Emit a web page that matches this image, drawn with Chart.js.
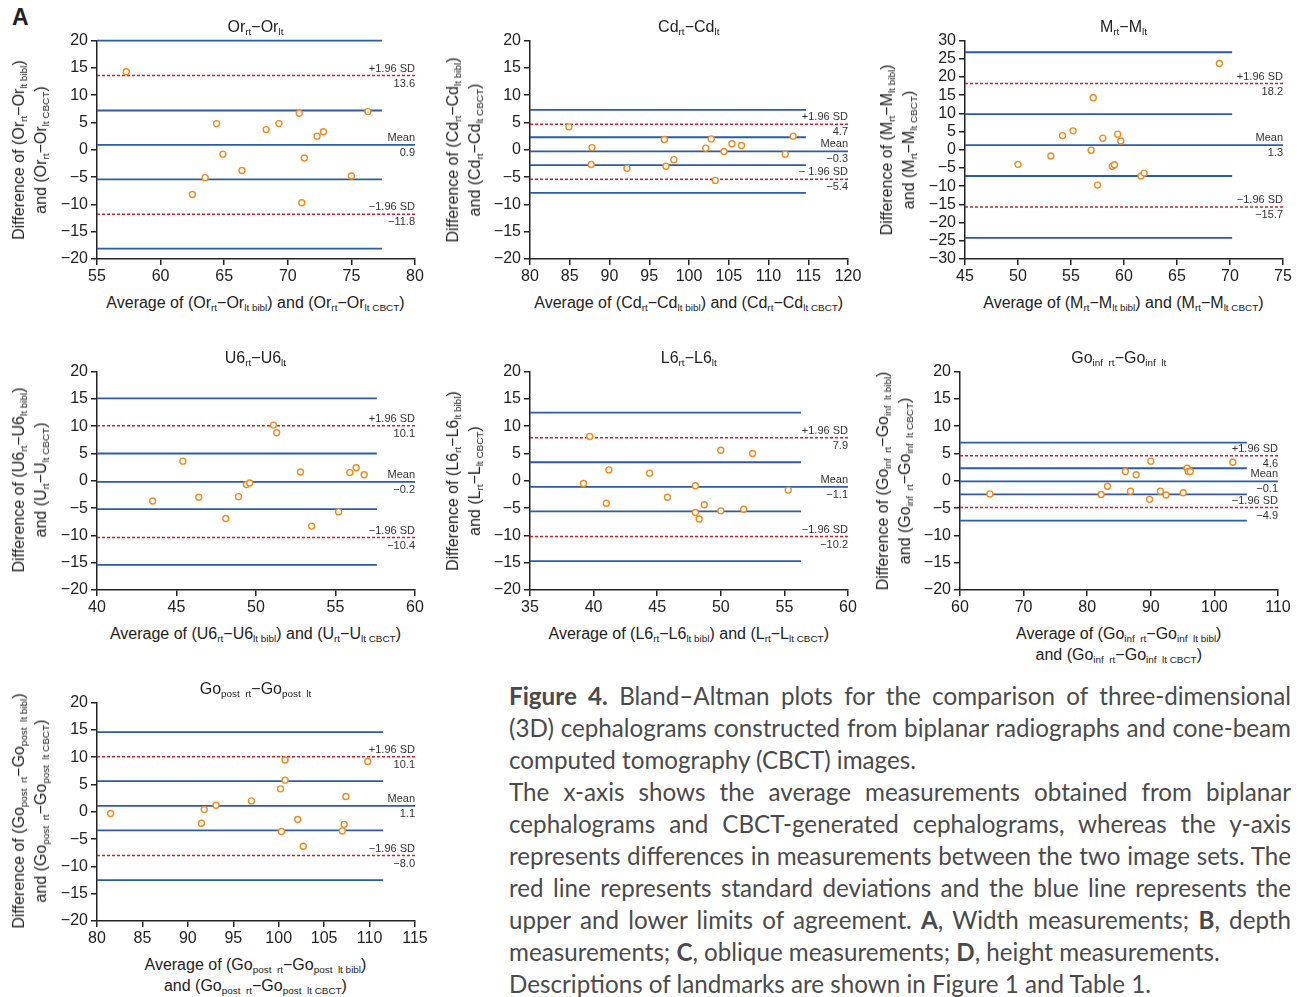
<!DOCTYPE html>
<html>
<head>
<meta charset="utf-8">
<script src="https://cdn.jsdelivr.net/npm/chart.js@4/dist/chart.umd.min.js"></script>
<style>
  body{margin:0;background:#fff;width:1300px;height:997px;position:relative;overflow:hidden;font-family:"Liberation Sans",Arial,sans-serif;color:#222}
  canvas{position:absolute}
  .t{position:absolute;transform:translate(-50%,-50%);white-space:nowrap;font-size:16px;line-height:21px;text-align:center}
  .yl{transform:translate(-50%,-50%) rotate(-90deg);line-height:22px}
  sub{font-size:62%;vertical-align:-0.35em;line-height:0}
  #panelA{position:absolute;left:12px;top:4px;font-size:23px;font-weight:bold}
  #caption{position:absolute;left:509px;top:680px;width:782px;font-family:Lato,"Noto Sans",sans-serif;color:#4a4a4a;font-size:24px}
  #caption div{height:32px;line-height:32px;white-space:nowrap}
  #caption .j{text-align:justify;text-align-last:justify;white-space:normal}
</style>
</head>
<body>
<div id="panelA">A</div>
<div id="caption">
  <div class="j"><b>Figure 4.</b> Bland–Altman plots for the comparison of three-dimensional</div>
  <div class="j">(3D) cephalograms constructed from biplanar radiographs and cone-beam</div>
  <div>computed tomography (CBCT) images.</div>
  <div class="j">The x-axis shows the average measurements obtained from biplanar</div>
  <div class="j">cephalograms and CBCT-generated cephalograms, whereas the y-axis</div>
  <div class="j">represents differences in measurements between the two image sets. The</div>
  <div class="j">red line represents standard deviations and the blue line represents the</div>
  <div class="j">upper and lower limits of agreement. <b>A</b>, Width measurements; <b>B</b>, depth</div>
  <div>measurements; <b>C</b>, oblique measurements; <b>D</b>, height measurements.</div>
  <div id="lastLine"><span>Descriptions of landmarks are shown in Figure 1 and Table 1.</span></div>
</div>
<script>
// values (15 subjects per plot)
const orAvg  = [57.3, 62.5, 63.5, 64.4, 64.9, 66.4, 68.3, 69.3, 70.9, 71.1, 71.3, 72.3, 72.8, 75.0, 76.3];
const orDiff = [14.3, -8.2, -5.1, 4.8, -0.8, -3.8, 3.7, 4.8, 6.7, -9.7, -1.5, 2.5, 3.3, -4.8, 7.0];
const orBlue = [20, 7.2, -5.4, -18.1];
const orMean = 0.9, orSD = [13.6, -11.8];

const cdAvg  = [84.9, 87.8, 87.7, 92.2, 96.9, 97.1, 98.1, 102.1, 102.8, 103.3, 104.4, 105.4, 106.6, 112.1, 113.1];
const cdDiff = [4.2, 0.4, -2.7, -3.4, 1.9, -3.0, -1.8, 0.3, 2.0, -5.6, -0.3, 1.1, 0.8, -0.8, 2.5];
const cdBlue = [7.3, 2.3, -2.8, -7.9];
const cdMean = -0.3, cdSD = [4.7, -5.4];

const mAvg  = [50.0, 53.1, 54.2, 55.2, 56.9, 57.1, 57.5, 58.0, 58.9, 59.1, 59.4, 59.7, 61.6, 61.9, 69.0];
const mDiff = [-4.0, -1.7, 3.9, 5.2, -0.1, 14.3, -9.7, 3.2, -4.5, -4.1, 4.3, 2.4, -7.2, -6.4, 23.7];
const mBlue = [26.8, 9.8, -7.2, -24.2];
const mMean = 1.3, mSD = [18.2, -15.7];

const u6Avg  = [43.5, 45.4, 46.4, 48.1, 48.9, 49.4, 49.6, 51.1, 51.3, 52.8, 53.5, 55.2, 55.9, 56.3, 56.8];
const u6Diff = [-3.7, 3.6, -3.0, -6.9, -2.9, -0.7, -0.4, 10.2, 8.8, 1.6, -8.3, -5.7, 1.5, 2.4, 1.1];
const u6Blue = [15.1, 5.0, -5.2, -15.4];
const u6Mean = -0.2, u6SD = [10.1, -10.4];

const l6Avg  = [39.2, 39.7, 41.0, 41.2, 44.4, 45.8, 48.0, 48.0, 48.3, 48.7, 50.0, 50.0, 51.8, 52.5, 55.3];
const l6Diff = [-0.5, 8.1, -4.1, 2.0, 1.4, -3.0, -0.9, -5.8, -7.0, -4.4, -5.5, 5.6, -5.2, 5.0, -1.7];
const l6Blue = [12.5, 3.4, -5.6, -14.7];
const l6Mean = -1.1, l6SD = [7.9, -10.2];

const giAvg  = [64.7, 82.2, 83.2, 86.0, 86.8, 87.7, 89.8, 90.0, 91.5, 92.4, 95.1, 95.7, 95.9, 96.2, 102.9];
const giDiff = [-2.4, -2.5, -1.0, 1.7, -1.9, 1.1, -3.4, 3.6, -1.9, -2.6, -2.2, 2.3, 1.7, 1.7, 3.4];
const giBlue = [7.0, 2.3, -2.5, -7.3];
const giMean = -0.1, giSD = [4.6, -4.9];

const gpAvg  = [81.5, 91.5, 91.8, 93.1, 97.0, 100.2, 100.3, 100.7, 100.7, 102.1, 102.7, 107.0, 107.2, 107.4, 109.8];
const gpDiff = [-0.3, -2.1, 0.4, 1.2, 2.0, 4.2, -3.6, 5.8, 9.5, -1.4, -6.3, -3.5, -2.3, 2.8, 9.2];
const gpBlue = [14.6, 5.6, -3.4, -12.5];
const gpMean = 1.1, gpSD = [10.1, -8.0];

// axis ranges and where the blue limit lines stop
const xRanges = [[55,80],[80,120],[45,75],[40,60],[35,60],[60,110],[80,115]];
const yRanges = [[-20,20],[-20,20],[-30,30],[-20,20],[-20,20],[-20,20],[-20,20]];
const blueEnds = [77.4, 114.7, 70.2, 57.6, 56.3, 105.1, 111.5];

const BLUE='#2b5ca8', RED='#cf1f2e', ORANGE='#f28a1f';
const minus = s => String(s).replace('-', '\u2212');

const panels = [
  {avg:orAvg, diff:orDiff, blue:orBlue, mean:orMean, sd:orSD, L:96.7, T:40, step:5,
   title:'Or<sub>rt</sub>−Or<sub>lt</sub>',
   xt:'Average of (Or<sub>rt</sub>−Or<sub>lt bibl</sub>) and (Or<sub>rt</sub>−Or<sub>lt CBCT</sub>)',
   yt:'Difference of (Or<sub>rt</sub>−Or<sub>lt bibl</sub>)<br>and (Or<sub>rt</sub>−Or<sub>lt CBCT</sub>)', yx:30},
  {avg:cdAvg, diff:cdDiff, blue:cdBlue, mean:cdMean, sd:cdSD, L:530, T:40, step:5, lowLabel:'\u2212 1.96 SD',
   title:'Cd<sub>rt</sub>−Cd<sub>lt</sub>',
   xt:'Average of (Cd<sub>rt</sub>−Cd<sub>lt bibl</sub>) and (Cd<sub>rt</sub>−Cd<sub>lt CBCT</sub>)',
   yt:'Difference of (Cd<sub>rt</sub>−Cd<sub>lt bibl</sub>)<br>and (Cd<sub>rt</sub>−Cd<sub>lt CBCT</sub>)', yx:464},
  {avg:mAvg, diff:mDiff, blue:mBlue, mean:mMean, sd:mSD, L:964.7, T:40, step:5,
   title:'M<sub>rt</sub>−M<sub>lt</sub>',
   xt:'Average of (M<sub>rt</sub>−M<sub>lt bibl</sub>) and (M<sub>rt</sub>−M<sub>lt CBCT</sub>)',
   yt:'Difference of (M<sub>rt</sub>−M<sub>lt bibl</sub>)<br>and (M<sub>rt</sub>−M<sub>lt CBCT</sub>)', yx:898},
  {avg:u6Avg, diff:u6Diff, blue:u6Blue, mean:u6Mean, sd:u6SD, L:96.7, T:370.7, step:5,
   title:'U6<sub>rt</sub>−U6<sub>lt</sub>',
   xt:'Average of (U6<sub>rt</sub>−U6<sub>lt bibl</sub>) and (U<sub>rt</sub>−U<sub>lt CBCT</sub>)',
   yt:'Difference of (U6<sub>rt</sub>−U6<sub>lt bibl</sub>)<br>and (U<sub>rt</sub>−U<sub>lt CBCT</sub>)', yx:30},
  {avg:l6Avg, diff:l6Diff, blue:l6Blue, mean:l6Mean, sd:l6SD, L:530, T:371, step:5,
   title:'L6<sub>rt</sub>−L6<sub>lt</sub>',
   xt:'Average of (L6<sub>rt</sub>−L6<sub>lt bibl</sub>) and (L<sub>rt</sub>−L<sub>lt CBCT</sub>)',
   yt:'Difference of (L6<sub>rt</sub>−L6<sub>lt bibl</sub>)<br>and (L<sub>rt</sub>−L<sub>lt CBCT</sub>)', yx:464},
  {avg:giAvg, diff:giDiff, blue:giBlue, mean:giMean, sd:giSD, L:960, T:371, step:10,
   title:'Go<sub>inf&nbsp;&nbsp;rt</sub>−Go<sub>inf&nbsp;&nbsp;lt</sub>',
   xt:'Average of (Go<sub>inf&nbsp;&nbsp;rt</sub>−Go<sub>inf&nbsp;&nbsp;lt bibl</sub>)<br>and (Go<sub>inf&nbsp;&nbsp;rt</sub>−Go<sub>inf&nbsp;&nbsp;lt CBCT</sub>)',
   yt:'Difference of (Go<sub>inf&nbsp;&nbsp;rt</sub>−Go<sub>inf&nbsp;&nbsp;lt bibl</sub>)<br>and (Go<sub>inf&nbsp;&nbsp;rt</sub>−Go<sub>inf&nbsp;&nbsp;lt CBCT</sub>)', yx:894},
  {avg:gpAvg, diff:gpDiff, blue:gpBlue, mean:gpMean, sd:gpSD, L:96.7, T:701.7, step:5,
   title:'Go<sub>post&nbsp;&nbsp;rt</sub>−Go<sub>post&nbsp;&nbsp;lt</sub>',
   xt:'Average of (Go<sub>post&nbsp;&nbsp;rt</sub>−Go<sub>post&nbsp;&nbsp;lt bibl</sub>)<br>and (Go<sub>post&nbsp;&nbsp;rt</sub>−Go<sub>post&nbsp;&nbsp;lt CBCT</sub>)',
   yt:'Difference of (Go<sub>post&nbsp;&nbsp;rt</sub>−Go<sub>post&nbsp;&nbsp;lt bibl</sub>)<br>and (Go<sub>post&nbsp;&nbsp;rt</sub>−Go<sub>post&nbsp;&nbsp;lt CBCT</sub>)', yx:30}
];

const W = 317.5, H = 219, YW = 60, XH = 30, PT = 12, PR = 18;

function addText(html, cx, cy, cls){
  const d = document.createElement('div');
  d.className = 't' + (cls ? ' ' + cls : '');
  d.innerHTML = html;
  d.style.left = cx + 'px'; d.style.top = cy + 'px';
  document.body.appendChild(d);
}

// right-aligned labels at the end of the mean / SD lines
const lineLabels = {
  id:'lineLabels',
  afterDatasetsDraw(chart, args, opts){
    const {ctx, chartArea, scales:{y}} = chart;
    ctx.save();
    ctx.font = '11px "Liberation Sans", Arial, sans-serif';
    ctx.fillStyle = '#333'; ctx.textAlign = 'right'; ctx.textBaseline = 'middle';
    opts.items.forEach(it=>{
      const py = y.getPixelForValue(it.v);
      ctx.fillText(it.top, chartArea.right, py - 7);
      ctx.fillText(it.bottom, chartArea.right, py + 8);
    });
    ctx.restore();
  }
};

panels.forEach((p, i)=>{
  const [xmin, xmax] = xRanges[i], [ymin, ymax] = yRanges[i];
  const cv = document.createElement('canvas');
  const cw = Math.round(YW + W + PR), ch = PT + H + XH;
  cv.width = cw; cv.height = ch;
  cv.style.left = (p.L - YW) + 'px'; cv.style.top = (p.T - PT) + 'px';
  cv.style.width = cw + 'px'; cv.style.height = ch + 'px';
  document.body.appendChild(cv);

  const seg = (v, x2, color, dash, w) => ({
    data:[{x:xmin, y:v}, {x:x2, y:v}], showLine:true, borderColor:color, borderWidth:w,
    borderDash:dash, pointRadius:0, order:1, clip:4
  });
  const datasets = [{
    data:p.avg.map((x, k)=>({x, y:p.diff[k]})),
    pointRadius:3, pointBorderWidth:1.4, borderColor:ORANGE, backgroundColor:'#fff', order:0
  }];
  p.blue.forEach(v=> datasets.push(seg(v, blueEnds[i], BLUE, [], 1.8)));
  datasets.push(seg(p.mean, xmax, BLUE, [], 1.8));
  p.sd.forEach(v=> datasets.push(seg(v, xmax, RED, [3, 2], 1.5)));

  const axisFont = {family:'"Liberation Sans", Arial, sans-serif', size:16};
  new Chart(cv.getContext('2d'), {
    type:'scatter',
    data:{datasets},
    plugins:[lineLabels],
    options:{
      responsive:false, animation:false, devicePixelRatio:1,
      layout:{padding:{top:PT, right:PR, left:0, bottom:0}},
      plugins:{legend:{display:false}, tooltip:{enabled:false},
        lineLabels:{items:[
          {v:p.sd[0], top:'+1.96 SD', bottom:minus(p.sd[0].toFixed(1))},
          {v:p.mean, top:'Mean', bottom:minus(p.mean.toFixed(1))},
          {v:p.sd[1], top:p.lowLabel || '\u22121.96 SD', bottom:minus(p.sd[1].toFixed(1))}
        ]}},
      scales:{
        x:{type:'linear', min:xmin, max:xmax,
           afterFit(s){ s.height = XH; },
           ticks:{stepSize:p.step, color:'#222', font:axisFont, padding:2, autoSkip:false, maxRotation:0, callback:v=>minus(v)},
           grid:{drawOnChartArea:false, color:'#222', tickLength:6, lineWidth:1.5},
           border:{color:'#222', width:1.5}},
        y:{type:'linear', min:ymin, max:ymax,
           afterFit(s){ s.width = YW; },
           ticks:{stepSize:5, color:'#222', font:axisFont, padding:3, autoSkip:false, callback:v=>minus(v)},
           grid:{drawOnChartArea:false, color:'#222', tickLength:6, lineWidth:1.5},
           border:{color:'#222', width:1.5}}
      }
    }
  });

  const cx = p.L + W / 2;
  addText(p.title, cx, p.T - 14);
  const twoLine = p.xt.indexOf('<br>') >= 0;
  addText(p.xt, cx, p.T + H + (twoLine ? 54 : 43));
  addText(p.yt, p.yx, p.T + H / 2, 'yl');
});

// fit the caption font so the last (unjustified) line has the reference width
const last = document.querySelector('#lastLine span');
const cap = document.getElementById('caption');
const w0 = last.getBoundingClientRect().width;
cap.style.fontSize = (24 * 642 / w0).toFixed(2) + 'px';
</script>
</body>
</html>
